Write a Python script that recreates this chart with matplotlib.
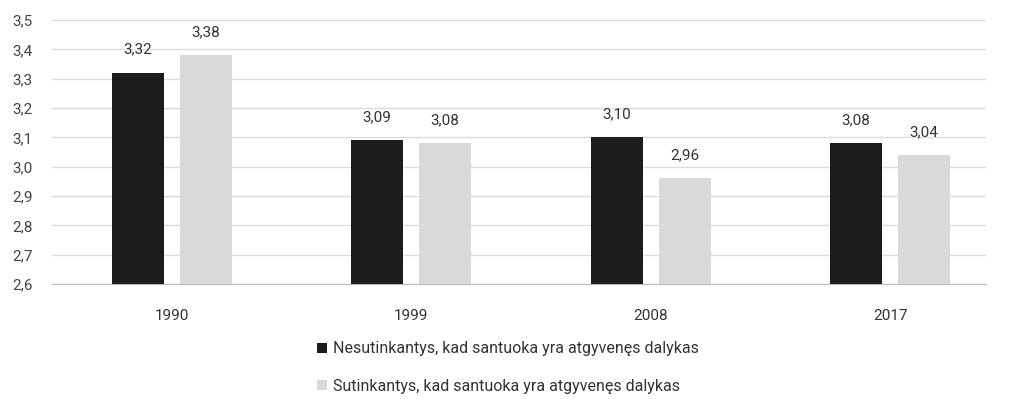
import matplotlib
matplotlib.use("Agg")
import matplotlib.pyplot as plt
import numpy as np

years = ["1990", "1999", "2008", "2017"]
nesutinkantys = [3.32, 3.09, 3.10, 3.08]
sutinkantys = [3.38, 3.08, 2.96, 3.04]
labels = ["Nesutinkantys, kad santuoka yra atgyvenęs dalykas",
          "Sutinkantys, kad santuoka yra atgyvenęs dalykas"]
yticks = [2.6, 2.7, 2.8, 2.9, 3.0, 3.1, 3.2, 3.3, 3.4, 3.5]

plt.rcParams['font.family'] = ['Roboto', 'DejaVu Sans']

fig = plt.figure(figsize=(10.1, 3.99), dpi=100)
ax = fig.add_axes([52/1010, 115/399, 934/1010, 264/399])

x = np.arange(len(years))
w = 0.217
off = 0.142
dark = "#1c1c1c"
light = "#d9d9d9"
b1 = ax.bar(x - off, [v - 2.6 for v in nesutinkantys], w, bottom=2.6, color=dark, label=labels[0], zorder=3)
b2 = ax.bar(x + off, [v - 2.6 for v in sutinkantys], w, bottom=2.6, color=light, label=labels[1], zorder=3)

for xi, v in zip(x - off, nesutinkantys):
    ax.text(xi, v + 0.055, f"{v:.2f}".replace(".", ","), ha="center", va="bottom", fontsize=11, color="#333333")
for xi, v in zip(x + off, sutinkantys):
    ax.text(xi, v + 0.055, f"{v:.2f}".replace(".", ","), ha="center", va="bottom", fontsize=11, color="#333333")

ax.set_xlim(-0.5, 3.4)
ax.set_ylim(2.6, 3.5)
ax.set_yticks(yticks)
ax.set_yticklabels([f"{t:.1f}".replace(".", ",") for t in yticks], fontsize=11, color="#444444")
ax.set_xticks(x)
ax.set_xticklabels(years, fontsize=11, color="#333333")
ax.tick_params(axis='both', length=0)
ax.tick_params(axis='x', pad=18)
ax.tick_params(axis='y', pad=14)
ax.grid(axis='y', color="#dcdcdc", linewidth=1, zorder=0)
for s in ["top", "right", "left"]:
    ax.spines[s].set_visible(False)
ax.spines["bottom"].set_color("#bbbbbb")

leg = fig.legend(handles=[b1, b2], loc="upper left", bbox_to_anchor=(303/1010, 1 - 327/399),
                 frameon=False, fontsize=11.5, handlelength=0.6, handleheight=0.6,
                 handletextpad=0.4, labelspacing=1.4, labelcolor="#333333")

fig.savefig("out.png", dpi=100)
